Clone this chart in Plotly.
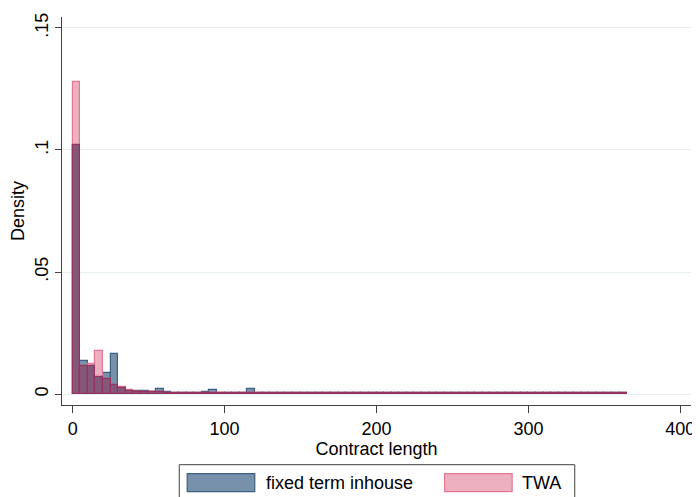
import plotly.graph_objects as go
import numpy as np

# histogram bins: width 5, starting at 0
BIN_START = 0
BIN_WIDTH = 5

fixed_term_inhouse = [
    0.102, 0.0136, 0.0113, 0.0071, 0.0088, 0.0163, 0.0023, 0.0014, 0.0014, 0.0012,
    0.0009, 0.0020, 0.0009, 0.0006, 0.0005, 0.0005, 0.0005, 0.0007, 0.0015, 0.0004,
    0.0006, 0.0004, 0.0004, 0.0021, 0.0004, 0.0004, 0.0004, 0.0004, 0.0003, 0.0003,
    0.0003, 0.0003, 0.0003, 0.0003, 0.0003, 0.0003, 0.0006, 0.0003, 0.0003, 0.0003,
    0.0003, 0.0003, 0.0003, 0.0003, 0.0003, 0.0003, 0.0003, 0.0003, 0.0003, 0.0003,
    0.0003, 0.0003, 0.0003, 0.0003, 0.0003, 0.0003, 0.0003, 0.0003, 0.0003, 0.0003,
    0.0003, 0.0003, 0.0003, 0.0003, 0.0003, 0.0003, 0.0003, 0.0003, 0.0003, 0.0003,
    0.0003, 0.0003, 0.0003,
]
twa = [
    0.128, 0.0113, 0.0122, 0.0177, 0.0061, 0.0038, 0.0027, 0.0018, 0.0010, 0.0010,
    0.0008, 0.0007, 0.0005, 0.0004, 0.0004, 0.0004, 0.0003, 0.0004, 0.0003, 0.0003,
    0.0003, 0.0003, 0.0003, 0.0003, 0.0003, 0.0003, 0.0003, 0.0003, 0.0003, 0.0003,
    0.0003, 0.0003, 0.0003, 0.0003, 0.0003, 0.0003, 0.0003, 0.0003, 0.0003, 0.0003,
    0.0003, 0.0003, 0.0003, 0.0003, 0.0003, 0.0003, 0.0003, 0.0003, 0.0003, 0.0003,
    0.0003, 0.0003, 0.0003, 0.0003, 0.0003, 0.0003, 0.0003, 0.0003, 0.0003, 0.0003,
    0.0003, 0.0003, 0.0003, 0.0003, 0.0003, 0.0003, 0.0003, 0.0003, 0.0003, 0.0003,
    0.0003, 0.0003, 0.0003,
]
series_names = ["fixed term inhouse", "TWA"]
x_ticks = [0, 100, 200, 300, 400]
y_ticks = [0, 0.05, 0.1, 0.15]
y_ticklabels = ["0", ".05", ".1", ".15"]

BLUE_FILL = "rgb(120,145,171)"
BLUE_LINE = "rgb(62,96,130)"
PINK_FILL = "rgb(236,176,192)"
PINK_LINE = "rgb(226,120,150)"
OVER_FILL = "rgb(133,87,121)"
OVER_LINE = "rgb(150,50,95)"
AXIS = "#404040"

n = len(twa)
centers = BIN_START + BIN_WIDTH * (np.arange(n) + 0.5)
overlap = np.minimum(fixed_term_inhouse, twa)

fig = go.Figure()
fig.add_trace(go.Bar(x=centers, y=fixed_term_inhouse, width=BIN_WIDTH, name=series_names[0],
                     marker=dict(color=BLUE_FILL, line=dict(color=BLUE_LINE, width=1.2))))
fig.add_trace(go.Bar(x=centers, y=twa, width=BIN_WIDTH, name=series_names[1],
                     marker=dict(color=PINK_FILL, line=dict(color=PINK_LINE, width=1.2))))
fig.add_trace(go.Bar(x=centers, y=overlap, width=BIN_WIDTH, name="overlap",
                     marker=dict(color=OVER_FILL, line=dict(color=OVER_LINE, width=1.2))))

# the page body adds an 8px margin, so the figure is drawn 8px in from the window corner
OFF = 8
W, H = 700 - OFF, 497 - OFF
PL, PR, PT, PB = 62, 695, 15, 405  # plot area edges in window pixels
ML, MR, MT, MB = PL - OFF, W - (PR - OFF), PT - OFF, H - (PB - OFF)
pw, ph = W - ML - MR, H - MT - MB


def px_x(px):
    return (px - OFF - ML) / pw


def px_y(py):
    return (H - MB - (py - OFF)) / ph


shapes = [
    # legend frame
    dict(type="rect", xref="paper", yref="paper", x0=px_x(180), x1=px_x(578),
         y0=px_y(510), y1=px_y(465), line=dict(color=AXIS, width=1), fillcolor="white"),
    dict(type="rect", xref="paper", yref="paper", x0=px_x(188), x1=px_x(256),
         y0=px_y(492), y1=px_y(474), line=dict(color=BLUE_LINE, width=1.2), fillcolor=BLUE_FILL),
    dict(type="rect", xref="paper", yref="paper", x0=px_x(447), x1=px_x(515),
         y0=px_y(492), y1=px_y(474), line=dict(color=PINK_LINE, width=1.2), fillcolor=PINK_FILL),
]
annotations = [
    dict(text=series_names[0], xref="paper", yref="paper", x=px_x(265), y=px_y(483),
         xanchor="left", yanchor="middle", showarrow=False, font=dict(size=18)),
    dict(text=series_names[1], xref="paper", yref="paper", x=px_x(523), y=px_y(483),
         xanchor="left", yanchor="middle", showarrow=False, font=dict(size=18)),
]

fig.update_layout(
    width=W, height=H,
    margin=dict(l=ML, r=MR, t=MT, b=MB, pad=0),
    paper_bgcolor="white", plot_bgcolor="white",
    font=dict(family="Liberation Sans, Arial", color="black", size=18),
    barmode="overlay", bargap=0, showlegend=False,
    shapes=shapes, annotations=annotations,
)
fig.update_xaxes(
    range=[-7, 407], tickvals=x_ticks, ticks="outside", ticklen=7, tickcolor=AXIS,
    showline=True, linecolor=AXIS, linewidth=1, showgrid=False, zeroline=False,
    title=dict(text="Contract length", font=dict(size=18), standoff=0),
    tickfont=dict(size=18),
)
fig.update_yaxes(
    range=[-0.00448, 0.15448], tickvals=y_ticks, ticktext=y_ticklabels, tickangle=-90,
    ticks="outside", ticklen=6, tickcolor=AXIS,
    showline=True, linecolor=AXIS, linewidth=1,
    showgrid=True, gridcolor="#e6eef0", gridwidth=1, zeroline=False,
    title=dict(text="Density", font=dict(size=18), standoff=4),
    tickfont=dict(size=18),
)

fig.write_html("out.html")
